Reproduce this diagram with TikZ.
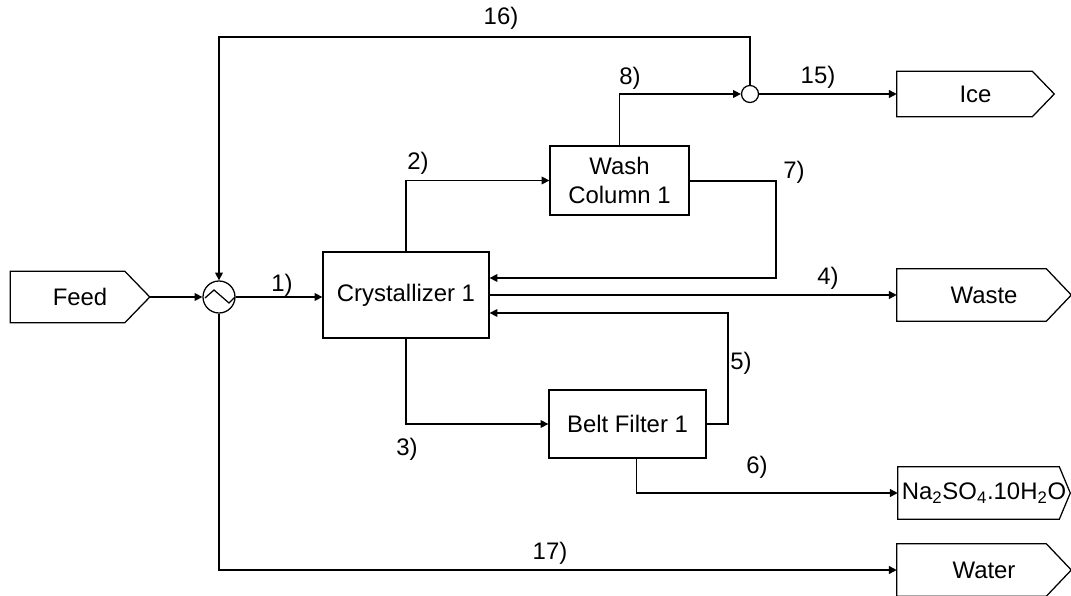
\documentclass[tikz,border=0pt]{standalone}
\usepackage{fontspec}
\setmainfont{Liberation Sans}
\usetikzlibrary{arrows.meta,calc}
\newcommand\pentout[2]{\draw[line width=0.9pt] (#1.north west) -- ([xshift=-#2*0.025cm]#1.north east) -- (#1.east) -- ([xshift=-#2*0.025cm]#1.south east) -- (#1.south west) -- cycle;}
\begin{document}
\begin{tikzpicture}[x=0.025cm,y=-0.025cm,
  every node/.style={font=\fontsize{17pt}{20pt}\selectfont},
  unit/.style={draw,line width=0.9pt,inner sep=0pt,align=center},
  term/.style={inner sep=0pt,align=center},
  lbl/.style={inner sep=0pt},
  arr/.style={line width=0.9pt,-{Triangle[length=5.5pt,width=5.5pt]}},
  ln/.style={line width=0.9pt}]
\useasboundingbox (0,0) rectangle (1071,596);
% nodes
\node[term,minimum width=139*0.025cm,minimum height=51*0.025cm] (feed) at (80,297) {Feed};
\node[circle,draw,line width=0.9pt,minimum size=32*0.025cm,inner sep=0pt] (hx) at (219,297) {};
\node[unit,minimum width=166*0.025cm,minimum height=86*0.025cm] (cry) at (406,295) {Crystallizer 1};
\node[unit,minimum width=139*0.025cm,minimum height=69*0.025cm] (wash) at (619.5,180.5) {Wash\\Column 1};
\node[unit,minimum width=157*0.025cm,minimum height=68*0.025cm] (belt) at (627.5,424) {Belt Filter 1};
\node[circle,draw,line width=0.9pt,minimum size=17*0.025cm,inner sep=0pt] (mix) at (750,94) {};
\node[term,minimum width=157*0.025cm,minimum height=45*0.025cm] (ice) at (975.5,94) {Ice};
\node[term,minimum width=174*0.025cm,minimum height=52*0.025cm] (waste) at (984,295) {Waste};
\node[term,minimum width=172*0.025cm,minimum height=52*0.025cm] (na) at (984,493) {Na\textsubscript{2}SO\textsubscript{4}.10H\textsubscript{2}O};
\node[term,minimum width=174*0.025cm,minimum height=52*0.025cm] (water) at (984,570) {Water};
\pentout{feed}{25}
\pentout{ice}{22}
\pentout{waste}{25}
\pentout{na}{11}
\pentout{water}{25}
% heat exchanger zigzag
\draw[ln,shift={(hx.center)}] (-14,1) -- (-5,-7) -- (10,6) -- (16,0);
% coordinates
\coordinate (c16) at (219,37);
\coordinate (c7a) at (776,181);
\coordinate (c7b) at (776,278);
\coordinate (c5a) at (728,424);
\coordinate (c5b) at (728,313);
\coordinate (c17) at (219,570);
% connectors
\draw[arr] (feed.east) -- (hx.west);
\draw[arr] (hx.east) -- (cry.west |- hx.east);
\draw[arr] (hx.south) -- (c17) -- (water.west);
\draw[arr] (cry.north) |- (wash.west);
\draw[arr] (wash.east |- c7a) -- (c7a) -- (c7b) -- (cry.east |- c7b);
\draw[arr] (cry.east) -- (waste.west);
\draw[arr] (belt.east) -- (c5a) -- (c5b) -- (cry.east |- c5b);
\draw[arr] (cry.south) |- (belt.west);
\draw[arr] ([xshift=9*0.025cm]belt.south) |- (na.west);
\draw[arr] (wash.north) |- (mix.west);
\draw[arr] (mix.east) -- (ice.west);
\draw[arr] (mix.north) |- (c16) -- (hx.north);
% labels
\node[lbl] (l1) at (282,285) {1)};
\node[lbl] (l2) at (418,163) {2)};
\node[lbl] (l3) at (407,449) {3)};
\node[lbl] (l4) at (828,278) {4)};
\node[lbl] (l5) at (741,363) {5)};
\node[lbl] (l6) at (757,467) {6)};
\node[lbl] (l7) at (794,172) {7)};
\node[lbl] (l8) at (630,78) {8)};
\node[lbl] (l15) at (818,77) {15)};
\node[lbl] (l16) at (501,18) {16)};
\node[lbl] (l17) at (550,553) {17)};
\end{tikzpicture}
\end{document}
